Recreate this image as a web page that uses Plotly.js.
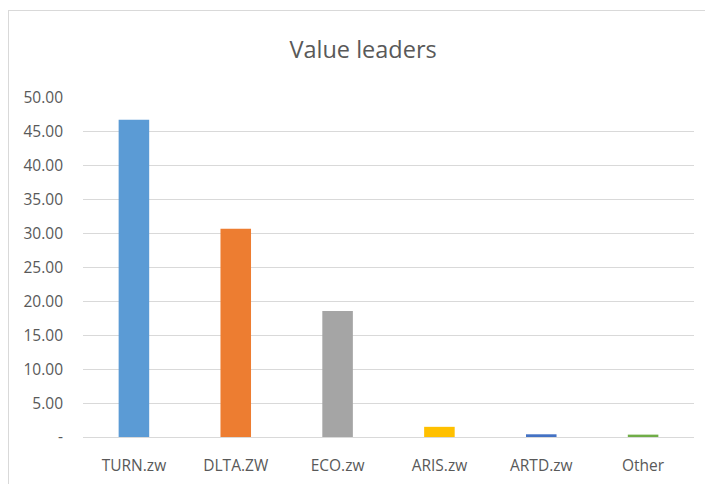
<!DOCTYPE html>
<html>
<head>
<meta charset="utf-8">
<script src="https://cdn.plot.ly/plotly-3.0.1.min.js"></script>
<style>
html,body{margin:0;padding:0;background:#fff;}
#wrap{position:relative;width:705px;height:484px;}
#chart{width:705px;height:484px;}
#frame{position:absolute;left:8px;top:10px;width:700px;height:476px;border:1px solid #d9d9d9;pointer-events:none;box-sizing:border-box;}
</style>
</head>
<body>
<div id="wrap"><div id="chart"></div><div id="frame"></div></div>
<script>
const categories = ["TURN.zw", "DLTA.ZW", "ECO.zw", "ARIS.zw", "ARTD.zw", "Other"];
const values = [46.8, 30.7, 18.6, 1.5, 0.4, 0.35];
const barColors = ["#5B9BD5", "#ED7D31", "#A5A5A5", "#FFC000", "#4472C4", "#70AD47"];
const yTickVals = [0, 5, 10, 15, 20, 25, 30, 35, 40, 45, 50];
const yTickText = ["-", "5.00", "10.00", "15.00", "20.00", "25.00", "30.00", "35.00", "40.00", "45.00", "50.00"];

const font = "Open Sans, Noto Sans, sans-serif";
Plotly.newPlot("chart", [{
  type: "bar",
  x: categories,
  y: values,
  marker: {color: barColors},
  hoverinfo: "x+y"
}], {
  width: 705, height: 484,
  margin: {l: 83, r: 11, t: 98, b: 47},
  paper_bgcolor: "#fff", plot_bgcolor: "#fff",
  bargap: 0.7,
  showlegend: false,
  title: {text: "Value leaders", x: 0.515, xanchor: "center", y: 0.898, yanchor: "middle",
          font: {family: font, size: 23.5, color: "#595959"}},
  xaxis: {
    showgrid: false, showline: true, linecolor: "#D9D9D9", linewidth: 1,
    ticks: "", ticklabelstandoff: 14,
    tickfont: {family: font, size: 15.5, color: "#595959"}
  },
  yaxis: {
    range: [0, 50], tickvals: yTickVals, ticktext: yTickText,
    showgrid: true, gridcolor: "#D9D9D9", gridwidth: 1, zeroline: false,
    ticks: "", ticklabelstandoff: 19,
    tickfont: {family: font, size: 15.5, color: "#595959"}
  }
}, {displayModeBar: false, staticPlot: true});
</script>
</body>
</html>
